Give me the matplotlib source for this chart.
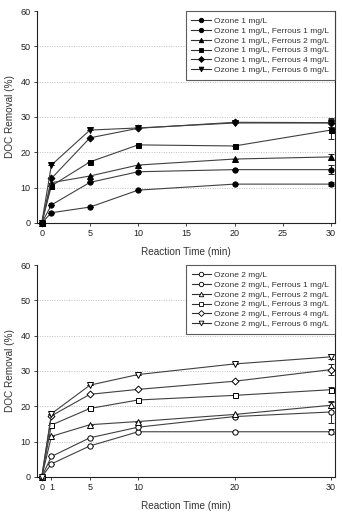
import matplotlib
matplotlib.use("Agg")
import matplotlib.pyplot as plt
from matplotlib.lines import Line2D

plt.rcParams['font.family'] = ['Liberation Sans', 'DejaVu Sans']

time = [0, 1, 5, 10, 20, 30]

labels_top = ["Ozone 1 mg/L", "Ozone 1 mg/L, Ferrous 1 mg/L", "Ozone 1 mg/L, Ferrous 2 mg/L",
              "Ozone 1 mg/L, Ferrous 3 mg/L", "Ozone 1 mg/L, Ferrous 4 mg/L", "Ozone 1 mg/L, Ferrous 6 mg/L"]
o1_f0 = [0, 2.9, 4.5, 9.3, 11.0, 11.0]
o1_f1 = [0, 5.1, 11.5, 14.5, 15.1, 15.1]
o1_f2 = [0, 11.4, 13.3, 16.4, 18.1, 18.7]
o1_f3 = [0, 10.5, 17.3, 22.1, 21.8, 26.3]
o1_f4 = [0, 12.6, 24.1, 26.8, 28.5, 28.4]
o1_f6 = [0, 16.4, 26.3, 26.9, 28.3, 28.3]
o1_err30 = [0.5, 1.2, 0.8, 2.5, 1.2, 1.0]

labels_bot = ["Ozone 2 mg/L", "Ozone 2 mg/L, Ferrous 1 mg/L", "Ozone 2 mg/L, Ferrous 2 mg/L",
              "Ozone 2 mg/L, Ferrous 3 mg/L", "Ozone 2 mg/L, Ferrous 4 mg/L", "Ozone 2 mg/L, Ferrous 6 mg/L"]
o2_f0 = [0, 3.7, 8.8, 12.8, 12.8, 12.8]
o2_f1 = [0, 5.8, 11.1, 14.1, 17.1, 18.4]
o2_f2 = [0, 11.5, 14.8, 15.7, 17.7, 20.3]
o2_f3 = [0, 14.7, 19.4, 21.8, 23.1, 24.7]
o2_f4 = [0, 17.3, 23.4, 24.8, 27.1, 30.4]
o2_f6 = [0, 17.9, 26.0, 29.0, 32.0, 34.0]
o2_err30 = [0.7, 3.0, 0.8, 0.8, 1.5, 0.7]

markers = ["o", "o", "^", "s", "D", "v"]
msizes = [3.8, 3.8, 3.8, 3.6, 3.5, 4.0]

fig = plt.figure(figsize=(3.42, 5.12), dpi=100)
ax1 = fig.add_axes([0.108, 0.5645, 0.871, 0.414])
ax2 = fig.add_axes([0.108, 0.0684, 0.871, 0.414])

def draw(ax, series, labels, errs, filled, xticks):
    handles = []
    fc = "black" if filled else "white"
    for i, (y, lab) in enumerate(zip(series, labels)):
        yerr = [0] * (len(time) - 1) + [errs[i]]
        ax.errorbar(time, y, yerr=yerr, color="#404040", lw=0.8,
                    marker=markers[i], ms=msizes[i],
                    mfc=fc, mec="black", mew=0.7,
                    ecolor="#222222", elinewidth=0.7, capsize=2, capthick=0.7,
                    clip_on=False, zorder=3)
        handles.append(Line2D([], [], color="#303030", lw=0.8, marker=markers[i],
                              ms=msizes[i] * 0.85, mfc=fc, mec="black", mew=0.6))
    ax.set_xlim(-0.5, 30.4)
    ax.set_ylim(0, 60)
    ax.set_yticks(range(0, 61, 10))
    ax.set_xticks(xticks)
    for yv in range(10, 60, 10):
        ax.axhline(yv, color="#c0c0c0", lw=0.7, ls=(0, (1, 1.5)), zorder=0)
    ax.spines["top"].set_visible(False)
    for s in ["left", "bottom", "right"]:
        ax.spines[s].set_linewidth(0.8)
        ax.spines[s].set_color("#222222")
    ax.tick_params(axis="both", labelsize=6.5, length=2.5, width=0.6, colors="#222222", pad=2)
    ax.tick_params(axis="y", which="both", right=False)
    ax.set_ylabel("DOC Removal (%)", fontsize=7.2, color="#333333", labelpad=4)
    ax.set_xlabel("Reaction Time (min)", fontsize=7.2, color="#333333", labelpad=6)
    leg = ax.legend(handles, labels, loc="upper right", fontsize=6.0, frameon=True, fancybox=False,
                    edgecolor="#333333", borderpad=0.7, labelspacing=0.25, handlelength=2.3,
                    handletextpad=0.4, borderaxespad=0.0)
    leg.get_frame().set_linewidth(0.8)
    for t in leg.get_texts():
        t.set_color("#333333")

draw(ax1, [o1_f0, o1_f1, o1_f2, o1_f3, o1_f4, o1_f6], labels_top, o1_err30, True, [0, 5, 10, 15, 20, 25, 30])
draw(ax2, [o2_f0, o2_f1, o2_f2, o2_f3, o2_f4, o2_f6], labels_bot, o2_err30, False, [0, 1, 5, 10, 20, 30])

fig.savefig("out.png", dpi=100, facecolor="white")
